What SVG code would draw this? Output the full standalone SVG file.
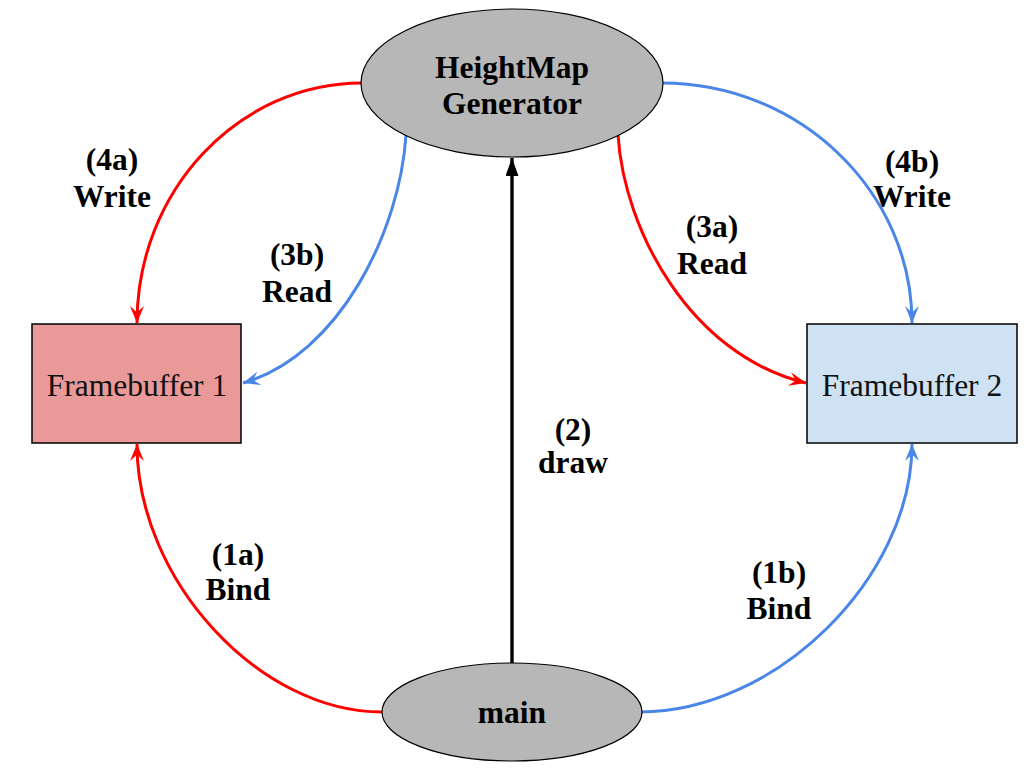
<svg xmlns="http://www.w3.org/2000/svg" width="1024" height="768" viewBox="0 0 1024 768">
<defs>
<style>
.lbl{font-family:"Liberation Serif","Times New Roman",serif;font-size:31.5px;font-weight:bold;fill:#000;text-anchor:middle}
.fb{font-family:"Liberation Serif","Times New Roman",serif;font-size:31.5px;fill:#111;text-anchor:middle}
.ell{fill:#b7b7b7;stroke:#000;stroke-width:1.2}
.rect{stroke:#000;stroke-width:1.5}
.red{fill:none;stroke:#ff0000;stroke-width:3;marker-end:url(#ar)}
.blue{fill:none;stroke:#4a86e8;stroke-width:3;marker-end:url(#ab)}
.blk{fill:none;stroke:#000;stroke-width:3.4;marker-end:url(#ak)}
</style>
<marker id="ar" markerUnits="userSpaceOnUse" markerWidth="18" markerHeight="15" refX="17" refY="7" orient="auto" viewBox="0 0 18 14"><path d="M0,0 L17,7 L0,14 L6.5,7 z" fill="#ff0000"/></marker>
<marker id="ab" markerUnits="userSpaceOnUse" markerWidth="18" markerHeight="15" refX="17" refY="7" orient="auto" viewBox="0 0 18 14"><path d="M0,0 L17,7 L0,14 L6.5,7 z" fill="#4a86e8"/></marker>
<marker id="ak" markerUnits="userSpaceOnUse" markerWidth="19" markerHeight="13" refX="18" refY="6.5" orient="auto" viewBox="0 0 19 13"><path d="M0,0 L18,6.5 L0,13 z" fill="#000"/></marker>
</defs>
<rect width="1024" height="768" fill="#fff"/>
<g id="connectors">
<path class="red" d="M362,83 C238,83 137,191 137,323"/>
<path class="blue" d="M406,135 C400,230 340,355 243,383"/>
<path class="red" d="M618,135 C624,230 690,355 806,383"/>
<path class="blue" d="M662,83 C799,83 912,191 912,323"/>
<path class="red" d="M382,712 C259,712 137,580 137,444"/>
<path class="blue" d="M640,712 C776,712 912,578 912,444"/>
<path class="blk" d="M512,663 L512,158"/>
</g>
<g id="node-heightmap">
<ellipse class="ell" cx="512" cy="83" rx="151" ry="74"/>
<text class="lbl" x="512" y="78">HeightMap</text>
<text class="lbl" x="512" y="114">Generator</text>
</g>
<g id="node-fb1">
<rect class="rect" x="32" y="324" width="209" height="119" fill="#ea9999"/>
<text class="fb" x="137" y="396">Framebuffer 1</text>
</g>
<g id="node-fb2">
<rect class="rect" x="807" y="324" width="210" height="119" fill="#cfe2f3"/>
<text class="fb" x="912" y="396">Framebuffer 2</text>
</g>
<g id="node-main">
<ellipse class="ell" cx="512" cy="712" rx="130" ry="49"/>
<text class="lbl" x="512" y="723">main</text>
</g>
<g id="labels">
<text class="lbl" x="112" y="170">(4a)</text>
<text class="lbl" x="112" y="207">Write</text>
<text class="lbl" x="297" y="265">(3b)</text>
<text class="lbl" x="297" y="302">Read</text>
<text class="lbl" x="712" y="237">(3a)</text>
<text class="lbl" x="712" y="274">Read</text>
<text class="lbl" x="912" y="172">(4b)</text>
<text class="lbl" x="912" y="207">Write</text>
<text class="lbl" x="238" y="565">(1a)</text>
<text class="lbl" x="238" y="600">Bind</text>
<text class="lbl" x="779" y="583">(1b)</text>
<text class="lbl" x="779" y="619">Bind</text>
<text class="lbl" x="573" y="440">(2)</text>
<text class="lbl" x="573" y="473">draw</text>
</g>
</svg>
